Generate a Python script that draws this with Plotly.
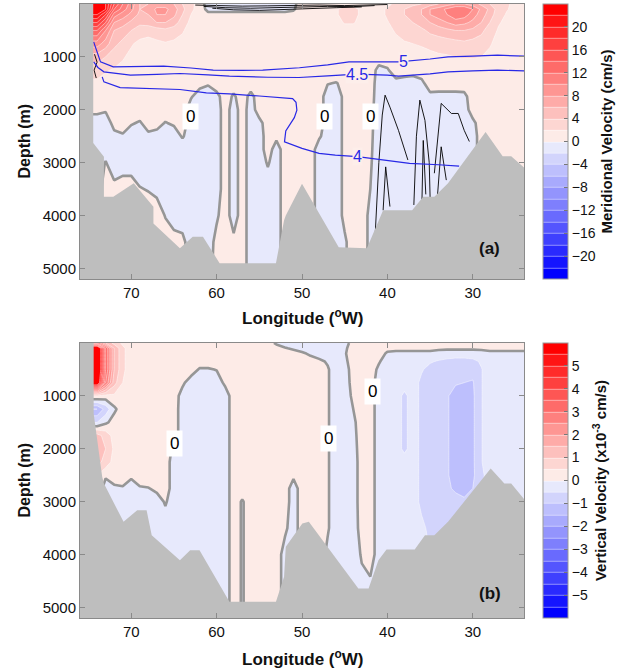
import numpy as np
import plotly.graph_objects as go

# ---------------- data ----------------
lon_nodes = [76, 75, 74, 73, 72, 71, 70, 69, 68, 67, 66, 65, 64, 63, 62, 61, 60, 59, 58, 57,
             56, 55, 54, 53, 52, 51, 50, 49, 48, 47, 46, 45, 44, 43, 42, 41, 40, 39, 38, 37,
             36, 35, 34, 33, 32, 31, 30, 29, 28, 27, 26, 25, 24]
depth_nodes = [0, 100, 200, 350, 500, 750, 1000, 1250, 1500, 1750, 2000, 2250, 2500, 2750,
               3000, 3500, 4000, 4500, 5000]

# meridional velocity (cm/s), one list per longitude node (surface -> bottom)
merid_cols = [
    [24, 24, 22, 18, 14, 9, 5, 2.8, 1.6, 1, 0.5, -1, -1, -1, -1, -1, -1, -1, -1],          # 76
    [24, 24, 22, 18, 14, 9, 5, 2.8, 1.6, 1, 0.5, -1, -1, -1, -1, -1, -1, -1, -1],          # 75
    [24, 24, 22, 18, 14, 9, 5, 2.8, 1.6, 1, 0.5, -1, -1, -1, -1, -1, -1, -1, -1],          # 74
    [22, 22, 18, 14, 10, 7, 4, 2.2, 1.2, 1, 0.2, -1, -1, -0.8, 0.1, 1, 1, 1, 1],           # 73
    [16, 14, 11, 8, 6, 4.5, 3, 1.8, 1.2, 1, 1, 0.6, -0.5, -1, -1, 0.5, 1, 1, 1],           # 72
    [12, 11, 9, 7, 5, 3.5, 2.2, 1.5, 1.1, 1, 1, 0.8, -0.2, -1, -0.8, 0.8, 1, 1, 1],        # 71
    [9, 8.5, 7.5, 5.5, 4, 2.2, 1.5, 1.2, 1, 1, 1, 0.2, -1, -1, -1, 1, 1, 1, 1],            # 70
    [6, 6, 5.5, 4.5, 3, 1.5, 1.2, 1.1, 1, 1, 1, -0.2, -1, -1, -1, 0.1, 1, 1, 1],           # 69
    [6, 6.5, 6, 5, 2.5, 1.5, 1.2, 1.1, 1, 1, 1, 0.8, -0.4, -1, -1, -0.1, 1, 1, 1],         # 68
    [7, 8.5, 8, 6, 3, 1.6, 1.2, 1.1, 1, 1, 1, 0.6, -0.6, -1, -1, -0.5, 1, 1, 1],           # 67
    [7, 8.5, 8, 6, 3.5, 1.8, 1.2, 1.1, 1, 1, 1, -0.1, -1, -1, -1, -1, -0.1, 1, 1],         # 66
    [6, 7, 6.5, 5, 3, 1.6, 1.2, 1, 1, 1, 1, 0.3, -1, -1, -1, -1, -0.6, 0.5, 1],            # 65
    [4, 4.5, 4, 3, 2.2, 1.4, 1.1, 1, 1, 1, 1, 1, 0.2, -1, -1, -1, -1, 0.5, 1],             # 64
    [2.5, 2.5, 2, 1.5, 1.2, 1.1, 1, 1, 1, 0.2, -1, -1, -1, -1, -1, -1, -1, -1, -1],        # 63
    [1.2, 1, 1, 1, 1, 1, 1, 1, 0.7, -1, -1, -1, -1, -1, -1, -1, -1, -1, -1],               # 62
    [-1, -0.5, 0.5, 1, 1, 1, 1, 1, 0.2, -1, -1, -1, -1, -1, -1, -1, -1, -1, -1],           # 61
    [-1, -0.5, 0.5, 1, 1, 1, 1, 1, 1, -0.6, -1, -1, -1, -1, -1, -1, -0.3, 0.6, 1],         # 60
    [-1, -0.5, 0.5, 1, 1, 1, 1, 1, 1, 1, 1, 1, 1, 1, 1, 1, 1, 1, 1],                        # 59
    [-1, -0.5, 0.5, 1, 1, 1, 1, 1, 1, -0.3, -1, -1, -1, -1, -1, -1, -1, 0.5, 1],           # 58
    [-1, -0.5, 0.5, 1, 1, 1, 1, 1, 1, 1, 1, 1, 1, 1, 1, 1, 1, 1, 1],                        # 57
    [-1, -0.5, 0.5, 1, 1, 1, 1, 1, 1, -0.6, -1, -1, -1, -1, -1, -1, -1, -1, -1],           # 56
    [-1, -0.5, 0.5, 1, 1, 1, 1, 1, 1, 1, 1, -0.6, -1, -1, -1, -1, -1, -1, -1],             # 55
    [-1, -0.5, 0.5, 1, 1, 1, 1, 1, 1, 1, 1, 1, 1, 1, 0.2, -1, -1, -1, -1],                 # 54
    [-1, -0.5, 0.5, 1, 1, 1, 1, 1, 1, 1, 1, 1, 0.5, -1, -1, -1, -1, -1, -1],               # 53
    [-1, -0.5, 0.5, 1, 1, 1, 1, 1, 1, 1, 1, 1, 1, 1, 1, 1, 1, 1, 1],                        # 52
    [-0.5, -0.2, 0.6, 1, 1, 1, 1, 1, 1, 1, 1, 1, 1, 1, 1, 1, 1, 1, 1],                      # 51
    [1, 1, 1, 1, 1, 1, 1, 1, 1, 1, 1, 1, 1, 1, 1, 1, 1, 1, 1],                              # 50
    [1, 1, 1, 1, 1, 1, 1, 1, 1, 1, 1, 1, 1, 1, 1, 1, 1, 1, 1],                              # 49
    [1, 1, 1, 1, 1, 1, 1, 1, 1, 1, 1, 1, 0.3, -1, -1, -1, -1, -1, -1],                      # 48
    [1, 1, 1, 1, 1, 1, 1, 1, 0.1, -1, -1, -1, -1, -1, -1, -1, -1, -1, -1],                  # 47
    [1.2, 1.8, 1.8, 1.2, 1, 1, 1, 1, -0.1, -1, -1, -1, -1, -1, -1, -1, -1, -1, -1],         # 46
    [1.5, 2.6, 2.6, 2.2, 1, 0.8, 0.5, 0.5, 0.5, 0.5, 0.5, 0.5, 0.5, 0.5, 0.5, 0.5, 0.5, -0.3, -0.3],  # 45
    [1.5, 2.6, 2.6, 2.2, 1, 1, 1, 1, 1, 1, 1, 1, 1, 1, 1, 1, 1, 1, 1],                      # 44
    [1.2, 1.6, 1.6, 1.3, 1, 1, 1, 1, 1, 1, 1, 1, 1, 1, 1, 1, 1, 1, 1],                      # 43
    [1, 1, 1, 1, 1, 1, 1, 1, 1, 0.8, 0.6, 0.5, 0.4, 0.3, 0.2, 0, -0.5, -0.5, -0.5],        # 42
    [1.2, 1.5, 1.5, 1.3, 1.1, 1, 1, -0.6, -1, -1, -1, -1, -1, -1, -1, -1, -1, -1, -1],      # 41
    [1.5, 2.2, 2.2, 1.9, 1.5, 1.2, 1, -0.2, -1, -1, -1, -1, -1, -1, -1, -1, -1, -1, -1],    # 40
    [2.5, 3, 3, 2.5, 2.2, 1.5, 1, 1, -0.6, -1, -1, -1, -1, -1, -1, -1, -1, -1, -1],         # 39
    [3, 4, 4, 3.5, 2.8, 1.8, 1.2, 1, -0.9, -1, -1, -1, -1, -1, -1, -1, -1, -1, -1],         # 38
    [3.5, 5, 5, 4, 3, 2, 1.2, 0.8, -1, -1, -1, -1, -1, -1, -1, -1, -1, -1, -1],             # 37
    [4, 6, 6, 5, 3.5, 2.2, 1.3, 1, -0.5, -1, -1, -1, -1, -1, -1, -1, -1, -1, -1],           # 36
    [5, 8, 8, 6, 4.5, 2.5, 1.5, 1, 1, -0.5, -1, -1, -1, -1, -1, -1, -1, -1, -1],            # 35
    [6, 9, 9, 7, 5, 2.8, 1.7, 1.1, 1, -0.6, -1, -1, -1, -1, -1, -1, -1, -1, -1],            # 34
    [7, 10.5, 10, 8, 5.5, 3, 1.8, 1.2, 1, -0.6, -1, -1, -1, -1, -1, -1, -1, -1, -1],        # 33
    [8, 12, 11.5, 9, 6, 3.2, 2, 1.2, 1, -0.6, -1, -1, -1, -1, -1, -1, -1, -1, -1],          # 32
    [8, 12, 11, 8.5, 6, 3.5, 2.1, 1.3, 1, -0.5, -1, -1, -1, -1, -1, -1, -1, -1, -1],        # 31
    [7, 10, 9, 7.5, 5.5, 3.2, 2.1, 1.3, 1, 1, 1, -0.5, -1, -1, -1, -1, -1, -1, -1],         # 30
    [5.5, 7.5, 7, 6, 4.5, 3, 2, 1.3, 1, 1, 1, 1, 1, 1, 1, 1, 1, 1, 1],                      # 29
    [4, 5.5, 5, 4, 3, 2.2, 1.5, 1.1, 1, 1, 1, 1, 1, 1, 1, 1, 1, 1, 1],                      # 28
    [3, 3, 2.8, 2.2, 1.8, 1.3, 1.1, 1, 1, 1, 1, 1, 1, 1, 1, 1, 1, 1, 1],                    # 27
    [2.2, 2.1, 1.8, 1.5, 1.3, 1.1, 1, 1, 1, 1, 1, 1, 1, 1, 1, 1, 1, 1, 1],                  # 26
    [1.6, 1.5, 1.3, 1.2, 1.1, 1, 1, 1, 1, 1, 1, 1, 1, 1, 1, 1, 1, 1, 1],                    # 25
    [1.2, 1.1, 1, 1, 1, 1, 1, 1, 1, 1, 1, 1, 1, 1, 1, 1, 1, 1, 1],                          # 24
]

# vertical velocity (x1e-3 cm/s), one list per longitude node (surface -> bottom)
vert_cols = [
    [3, 7, 7, 7, 7, 6.5, 0.5, -1.5, -0.5, 1.2, 1.5, 1.2, 0.5, 0.5, 0.5, 0.5, 0.5, 0.5, 0.5],   # 76
    [3, 7, 7, 7, 7, 6.5, 0.5, -1.5, -0.5, 1.2, 1.5, 1.2, 0.5, 0.5, 0.5, 0.5, 0.5, 0.5, 0.5],   # 75
    [3, 7, 7, 7, 7, 6.5, 0.5, -1.5, -0.5, 1.2, 1.5, 1.2, 0.5, 0.5, 0.5, 0.5, 0.5, 0.5, 0.5],   # 74
    [1.5, 3.5, 3.5, 3.5, 3.5, 3, 0.3, -0.8, -0.1, 0.8, 1, 0.8, 0.1, -0.3, -0.3, -0.3, -0.3, -0.3, -0.3],  # 73
    [0.8, 1.5, 1.5, 1.5, 1.5, 1.2, 0.4, -0.1, 0.2, 0.3, 0.4, 0.3, 0.25, -0.1, -0.25, -0.25, -0.25, -0.25, -0.25],  # 72
    [0.4, 0.6, 0.6, 0.6, 0.6, 0.5, 0.3, 0.25, 0.25, 0.25, 0.25, 0.25, 0.25, -0.05, -0.25, -0.25, -0.25, -0.25, -0.25],  # 71
    [0.25, 0.25, 0.25, 0.25, 0.25, 0.25, 0.25, 0.25, 0.25, 0.25, 0.25, 0.25, 0.1, -0.25, -0.25, -0.25, -0.25, -0.25, -0.25],  # 70
    [0.25, 0.25, 0.25, 0.25, 0.25, 0.25, 0.25, 0.25, 0.25, 0.25, 0.25, 0.25, 0.25, -0.05, -0.25, -0.25, -0.25, -0.25, -0.25],  # 69
    [0.25, 0.25, 0.25, 0.25, 0.25, 0.25, 0.25, 0.25, 0.25, 0.25, 0.25, 0.25, 0.25, -0.02, -0.25, -0.25, -0.25, -0.25, -0.25],  # 68
    [0.25, 0.25, 0.25, 0.25, 0.25, 0.25, 0.25, 0.25, 0.25, 0.25, 0.25, 0.25, 0.25, 0.1, -0.2, -0.25, -0.25, -0.25, -0.25],  # 67
    [0.25, 0.25, 0.25, 0.25, 0.25, 0.25, 0.25, 0.25, 0.25, 0.25, 0.25, 0.25, 0.25, 0.25, 0.05, -0.25, -0.25, -0.25, -0.25],  # 66
    [0.25, 0.25, 0.25, 0.25, 0.25, 0.25, 0.25, 0.25, 0.25, 0.25, -0.1, -0.25, -0.25, -0.25, -0.25, -0.25, -0.25, -0.25, -0.25],  # 65
    [0.25, 0.25, 0.25, 0.25, 0.25, 0.1, -0.2, -0.25, -0.25, -0.25, -0.25, -0.25, -0.25, -0.25, -0.25, -0.25, -0.25, -0.25, -0.25],  # 64
    [0.25, 0.25, 0.25, 0.25, 0.25, -0.25, -0.25, -0.25, -0.25, -0.25, -0.25, -0.25, -0.25, -0.25, -0.25, -0.25, -0.25, -0.25, -0.25],  # 63
    [0.25, 0.25, 0.25, 0.25, -0.05, -0.25, -0.25, -0.25, -0.25, -0.25, -0.25, -0.25, -0.25, -0.25, -0.25, -0.25, -0.25, -0.25, -0.25],  # 62
    [0.25, 0.25, 0.25, 0.25, -0.05, -0.25, -0.25, -0.25, -0.25, -0.25, -0.25, -0.25, -0.25, -0.25, -0.25, -0.25, -0.25, -0.25, -0.25],  # 61
    [0.25, 0.25, 0.25, 0.25, 0.02, -0.25, -0.25, -0.25, -0.25, -0.25, -0.25, -0.25, -0.25, -0.25, -0.25, -0.25, -0.25, -0.25, -0.25],  # 60
    [0.25, 0.25, 0.25, 0.25, 0.25, 0.1, -0.25, -0.25, -0.25, -0.25, -0.25, -0.25, -0.25, -0.25, -0.25, -0.25, -0.25, -0.25, -0.25],  # 59
    [0.25, 0.25, 0.25, 0.25, 0.25, 0.25, 0.25, 0.25, 0.25, 0.25, 0.25, 0.25, 0.25, 0.25, 0.25, 0.25, 0.25, 0.25, 0.25],  # 58
    [0.25, 0.25, 0.25, 0.25, 0.25, 0.25, 0.25, 0.25, 0.25, 0.25, 0.25, 0.25, 0.25, 0.25, -0.05, -0.05, -0.05, -0.05, -0.05],  # 57
    [0.25, 0.25, 0.25, 0.25, 0.25, 0.25, 0.25, 0.25, 0.25, 0.25, 0.25, 0.25, 0.25, 0.25, 0.25, 0.25, 0.25, 0.25, 0.25],  # 56
    [0.25, 0.25, 0.25, 0.25, 0.25, 0.25, 0.25, 0.25, 0.25, 0.25, 0.25, 0.25, 0.25, 0.25, 0.25, 0.25, 0.25, 0.25, 0.25],  # 55
    [0.25, 0.25, 0.25, 0.25, 0.25, 0.25, 0.25, 0.25, 0.25, 0.25, 0.25, 0.25, 0.25, 0.25, 0.25, 0.25, 0.25, 0.25, 0.25],  # 54
    [-0.1, 0.25, 0.25, 0.25, 0.25, 0.25, 0.25, 0.25, 0.25, 0.25, 0.25, 0.25, 0.25, 0.25, 0.25, 0.25, 0.25, 0.25, 0.25],  # 53
    [-0.25, 0.05, 0.25, 0.25, 0.25, 0.25, 0.25, 0.25, 0.25, 0.25, 0.25, 0.25, 0.25, 0.25, 0.25, 0.1, -0.2, -0.2, -0.2],  # 52
    [-0.25, -0.1, 0.25, 0.25, 0.25, 0.25, 0.25, 0.25, 0.25, 0.25, 0.25, 0.25, 0.1, -0.25, -0.25, -0.25, -0.25, -0.25, -0.25],  # 51
    [-0.25, -0.25, 0.1, 0.25, 0.25, 0.25, 0.25, 0.25, 0.25, 0.25, 0.25, 0.25, 0.25, 0.25, 0.25, 0.25, 0.25, 0.25, 0.25],  # 50
    [-0.25, -0.25, -0.1, 0.25, 0.25, 0.25, 0.25, 0.25, 0.25, 0.25, 0.25, 0.25, 0.25, 0.25, 0.25, 0.25, 0.25, 0.25, 0.25],  # 49
    [-0.25, -0.25, -0.2, 0.1, 0.25, 0.25, 0.25, 0.25, 0.25, 0.25, 0.25, 0.25, 0.25, 0.25, 0.25, 0.25, 0.25, 0.25, 0.25],  # 48
    [-0.25, -0.25, -0.25, -0.05, 0.05, 0.05, 0.05, 0.05, 0.05, 0.05, 0.05, 0.05, 0.05, 0.05, 0.05, 0.05, -0.1, -0.1, -0.1],  # 47
    [-0.25, -0.25, -0.25, -0.25, -0.25, -0.25, -0.25, -0.25, -0.25, -0.25, -0.25, -0.25, -0.25, -0.25, -0.25, -0.25, -0.25, -0.25, -0.25],  # 46
    [-0.25, -0.1, -0.05, -0.1, -0.15, -0.2, -0.25, -0.25, -0.25, -0.25, -0.25, -0.25, -0.25, -0.25, -0.25, -0.25, -0.25, -0.25, -0.25],  # 45
    [0.25, 0.25, 0.25, 0.2, 0.15, 0.15, 0.1, 0, -0.1, -0.15, -0.2, -0.25, -0.25, -0.25, -0.25, -0.25, -0.25, -0.25, -0.25],  # 44
    [0.25, 0.25, 0.25, 0.25, 0.25, 0.25, 0.25, 0.25, 0.25, 0.25, 0.25, 0.25, 0.25, 0.25, 0.25, 0.2, 0.05, -0.1, -0.1],  # 43
    [0.25, 0.25, 0.25, 0.25, 0.25, 0.25, 0.25, 0.25, 0.25, 0.25, 0.25, 0.25, 0.25, 0.25, 0.25, 0.25, 0.25, -0.05, -0.05],  # 42
    [0.25, 0.25, 0.15, 0.05, -0.1, -0.25, -0.25, -0.25, -0.25, -0.25, -0.25, -0.25, -0.25, -0.25, -0.25, -0.25, -0.25, -0.25, -0.25],  # 41
    [0.25, 0.1, -0.05, -0.25, -0.3, -0.3, -0.3, -0.3, -0.3, -0.3, -0.3, -0.3, -0.3, -0.3, -0.3, -0.3, -0.3, -0.3, -0.3],  # 40
    [0.25, 0.1, -0.1, -0.3, -0.3, -0.3, -0.3, -0.3, -0.3, -0.3, -0.3, -0.3, -0.3, -0.3, -0.3, -0.3, -0.3, -0.3, -0.3],  # 39
    [0.25, 0.1, -0.1, -0.3, -0.3, -0.3, -0.6, -0.6, -0.6, -0.6, -0.6, -0.3, -0.3, -0.3, -0.3, -0.3, -0.3, -0.3, -0.3],  # 38
    [0.25, 0.1, -0.1, -0.3, -0.3, -0.3, -0.3, -0.3, -0.3, -0.3, -0.3, -0.3, -0.3, -0.3, -0.3, -0.3, -0.3, -0.3, -0.3],  # 37
    [0.25, 0.1, -0.1, -0.3, -0.45, -0.6, -0.6, -0.6, -0.6, -0.6, -0.6, -0.6, -0.6, -0.6, -0.6, -0.4, -0.3, -0.3, -0.3],  # 36
    [0.25, 0.1, -0.1, -0.45, -0.65, -0.7, -0.7, -0.7, -0.7, -0.7, -0.7, -0.7, -0.7, -0.7, -0.7, -0.6, -0.5, -0.5, -0.5],  # 35
    [0.25, 0.1, -0.2, -0.55, -0.7, -0.8, -0.85, -0.85, -0.85, -0.85, -0.85, -0.85, -0.85, -0.85, -0.85, -0.85, -0.85, -0.85, -0.85],  # 34
    [0.25, 0.1, -0.3, -0.6, -0.8, -0.9, -0.95, -0.95, -0.95, -0.95, -0.95, -0.95, -0.95, -0.95, -0.95, -0.95, -0.95, -0.95, -0.95],  # 33
    [0.25, 0.1, -0.3, -0.65, -0.85, -0.95, -1.2, -1.2, -1.2, -1.2, -1.2, -1.2, -1.2, -1.05, -0.9, -0.9, -0.9, -0.9, -0.9],  # 32
    [0.25, 0.1, -0.3, -0.65, -0.85, -1.0, -1.2, -1.2, -1.2, -1.2, -1.2, -1.2, -1.2, -1.2, -0.9, -0.9, -0.9, -0.9, -0.9],  # 31
    [0.25, 0.1, -0.3, -0.6, -0.8, -1.05, -1.1, -1.1, -1.1, -1.1, -1.1, -1.1, -1.1, -1.0, -0.9, -0.9, -0.9, -0.9, -0.9],  # 30
    [0.25, 0.1, -0.2, -0.45, -0.52, -0.52, -0.52, -0.52, -0.52, -0.52, -0.52, -0.52, -0.6, -0.6, -0.6, -0.6, -0.6, -0.6, -0.6],  # 29
    [0.25, 0.1, -0.1, -0.3, -0.3, -0.3, -0.3, -0.3, -0.3, -0.3, -0.3, -0.3, -0.3, -0.3, -0.3, -0.3, -0.3, -0.3, -0.3],  # 28
    [0.25, 0.1, -0.1, -0.3, -0.3, -0.3, -0.3, -0.3, -0.3, -0.3, -0.3, -0.3, -0.3, -0.3, -0.3, -0.3, -0.3, -0.3, -0.3],  # 27
    [0.25, 0.1, -0.1, -0.3, -0.3, -0.3, -0.3, -0.3, -0.3, -0.3, -0.3, -0.3, -0.3, -0.3, -0.3, -0.3, -0.3, -0.3, -0.3],  # 26
    [0.25, 0.1, -0.1, -0.3, -0.3, -0.3, -0.3, -0.3, -0.3, -0.3, -0.3, -0.3, -0.3, -0.3, -0.3, -0.3, -0.3, -0.3, -0.3],  # 25
    [0.25, 0.1, -0.1, -0.3, -0.3, -0.3, -0.3, -0.3, -0.3, -0.3, -0.3, -0.3, -0.3, -0.3, -0.3, -0.3, -0.3, -0.3, -0.3],  # 24
]

# bottom topography (lon, depth)
topo_a_lon = [74.45, 74.45, 73.2, 73.2, 72.1, 69.7, 67.4, 67.4, 64.3, 62.8, 61.6, 59.65, 53.05, 52.1,
              51.9, 50.0, 45.7, 42.4, 40.5, 37.1, 35.8, 34.5, 32.9, 28.5, 26.5, 25.5, 24.0]
topo_a_depth = [0, 2630, 2890, 3645, 3645, 3390, 3835, 4150, 4620, 4400, 4400, 4900, 4900, 4087,
                4000, 3400, 4600, 4620, 3900, 3900, 3645, 3645, 3390, 2420, 2880, 2880, 3090]
topo_b_lon = [74.4, 74.4, 73.4, 73.2, 70.9, 69.3, 68.2, 67.6, 64.3, 63.1, 62.0, 58.5, 53.05, 52.1,
              51.9, 49.96, 49.2, 43.4, 42.2, 41.05, 40.1, 36.8, 35.6, 34.5, 32.9, 27.9, 26.3, 25.5, 24.0]
topo_b_depth = [0, 1333, 2531, 2657, 3382, 3161, 3161, 3633, 4106, 3917, 3917, 4894, 4894, 4421,
                3854, 3413, 3382, 4641, 4641, 4106, 3905, 3905, 3633, 3633, 3382, 2372, 2657, 2657, 2950]

# isolines (blue) in panel (a)
iso5_lon = [74.4, 74.0, 73.6, 72.1, 69.0, 66.2, 63.0, 60.4, 57.0, 54.6, 50.3, 47.0, 44.5, 41.0,
            38.7, 35.0, 32.9, 30.0, 27.1, 24.0]
iso5_depth = [716, 900, 1094, 1189, 1185, 1176, 1210, 1251, 1255, 1251, 1205, 1150, 1094, 1094,
              1094, 1040, 1000, 985, 968, 985]
iso45_lon = [74.4, 73.9, 73.2, 70.1, 67.0, 64.3, 61.0, 58.5, 54.0, 50.35, 47.0, 43.6, 40.0, 38.7,
             35.0, 32.9, 30.0, 27.1, 24.0]
iso45_depth = [1094, 1200, 1283, 1346, 1330, 1314, 1340, 1365, 1385, 1390, 1360, 1327, 1345, 1365,
               1320, 1283, 1265, 1251, 1264]
iso4_lon = [73.4, 73.2, 71.3, 68.0, 64.3, 61.2, 58.5, 55.0, 51.1, 50.7, 50.6, 50.9, 51.9, 52.05,
            50.0, 48.0, 46.1, 43.5, 39.9, 37.4, 34.0, 31.6]
iso4_depth = [1378, 1472, 1580, 1600, 1617, 1680, 1700, 1740, 1790, 1860, 2008, 2150, 2400, 2606,
              2731, 2826, 2857, 2885, 2952, 3012, 3040, 3065]
iso_labels = ["5", "4.5", "4"]
iso_label_lon = [38.1, 43.6, 43.5]
iso_label_depth = [1090, 1327, 2885]

# thin black contour lines in panel (a)
black_lines = [
    ([62.5, 60.0, 57.0, 54.0, 51.0, 48.0, 45.0, 42.0, 40.0], [20, 30, 40, 35, 25, 20, 30, 25, 10]),
    ([61.5, 59.0, 56.0, 53.0, 50.0, 47.0, 44.0, 41.5], [45, 70, 80, 65, 55, 45, 50, 30]),
    ([60.5, 58.0, 55.0, 52.0, 49.0, 46.0, 43.0], [80, 110, 120, 100, 80, 70, 55]),
    ([74.3, 74.0, 74.35, 74.1], [950, 1100, 1250, 1400]),
    ([41.43, 41.0, 40.6, 40.27, 39.7, 38.7, 37.6], [4370, 3000, 2100, 1724, 1950, 2390, 2950]),
    ([36.9, 36.6, 36.2, 35.6, 35.1, 35.0], [3800, 2500, 1818, 2200, 3000, 3650]),
    ([35.95, 35.8, 35.5], [3700, 2580, 3600]),
    ([34.5, 34.0, 33.7, 32.5, 31.7, 31.0, 30.4], [3200, 2400, 1880, 2070, 2070, 2390, 2600]),
    ([34.2, 33.7, 33.1], [3770, 2700, 3330]),
    ([40.5, 40.2, 39.7], [3900, 3080, 3830]),
]

# zero-contour labels
zero_lbl_a_lon = [63.1, 47.4, 42.0]
zero_lbl_a_depth = [2134, 2134, 2134]
zero_lbl_b_lon = [64.9, 46.9, 41.7]
zero_lbl_b_depth = [1900, 1800, 925]

lon_ticks = [70, 60, 50, 40, 30]
depth_ticks = [1000, 2000, 3000, 4000, 5000]
merid_ticks = [-20, -16, -12, -8, -4, 0, 4, 8, 12, 16, 20]
vert_ticks = [-5, -4, -3, -2, -1, 0, 1, 2, 3, 4, 5]

# ---------------- figure ----------------
LON_MAX, LON_MIN = 76, 24
DEPTH_MAX = 5200
W, H = 627, 669

x_asc = lon_nodes[::-1]
za = np.array(merid_cols).T[:, ::-1]
zb = np.array(vert_cols).T[:, ::-1]

cscale = [[0.0, 'rgb(0,0,255)'], [0.48, 'rgb(232,234,252)'], [0.5, 'rgb(255,255,255)'],
          [0.52, 'rgb(253,236,232)'], [1.0, 'rgb(255,0,0)']]

FONT = "Liberation Sans, Arial, sans-serif"
GRAY_TOPO = 'rgb(190,190,190)'
ZERO_COL = 'rgb(150,150,150)'

dom_x = [80 / W, 524 / W]
dom_ya = [1 - 279 / H, 1 - 4 / H]
dom_yb = [1 - 618 / H, 1 - 343 / H]

fig = go.Figure()


def cbar(title, ticks, dom):
    return dict(x=543 / W, xanchor='left', y=(dom[0] + dom[1]) / 2, yanchor='middle',
                len=dom[1] - dom[0], lenmode='fraction', thickness=25, thicknessmode='pixels',
                xpad=0, ypad=0, outlinecolor='#999999', outlinewidth=1,
                tickvals=ticks, ticks='inside', ticklen=4, tickcolor='#777777',
                tickfont=dict(size=14, family=FONT, color='#111111'),
                title=dict(text=title, side='right', font=dict(size=15, family=FONT, color='#111111')))


# panel (a)
fig.add_trace(go.Contour(
    x=x_asc, y=depth_nodes, z=za, xaxis='x', yaxis='y',
    colorscale=cscale, zmin=-24, zmax=24, autocontour=False,
    contours=dict(start=-22, end=22, size=2, coloring='fill', showlines=True),
    line=dict(color='rgba(255,255,255,0.8)', width=0.6, smoothing=0),
    colorbar=cbar('<b>Meridional Velocity (cm/s)</b>', merid_ticks, dom_ya),
    hoverinfo='skip'))
fig.add_trace(go.Contour(
    x=x_asc, y=depth_nodes, z=za, xaxis='x', yaxis='y', showscale=False,
    autocontour=False, contours=dict(start=0, end=0, size=1, coloring='none'),
    line=dict(color=ZERO_COL, width=2.6, smoothing=0), hoverinfo='skip'))
for bl_lon, bl_dep in black_lines:
    fig.add_trace(go.Scatter(x=bl_lon, y=bl_dep, mode='lines', xaxis='x', yaxis='y',
                             line=dict(color='black', width=0.9), showlegend=False, hoverinfo='skip'))
for ilon, idep in [(iso5_lon, iso5_depth), (iso45_lon, iso45_depth), (iso4_lon, iso4_depth)]:
    fig.add_trace(go.Scatter(x=ilon, y=idep, mode='lines', xaxis='x', yaxis='y',
                             line=dict(color='rgb(40,40,230)', width=1.2), showlegend=False,
                             hoverinfo='skip'))
fig.add_trace(go.Scatter(
    x=[LON_MAX] + topo_a_lon + [LON_MIN, LON_MAX], y=[0] + topo_a_depth + [DEPTH_MAX, DEPTH_MAX],
    mode='lines', fill='toself', fillcolor=GRAY_TOPO, line=dict(width=0, color=GRAY_TOPO),
    xaxis='x', yaxis='y', showlegend=False, hoverinfo='skip'))

# panel (b)
fig.add_trace(go.Contour(
    x=x_asc, y=depth_nodes, z=zb, xaxis='x2', yaxis='y2',
    colorscale=cscale, zmin=-6, zmax=6, autocontour=False,
    contours=dict(start=-5.5, end=5.5, size=0.5, coloring='fill', showlines=True),
    line=dict(color='rgba(255,255,255,0.8)', width=0.6, smoothing=0),
    colorbar=cbar('<b>Vertical Velocity (x10<sup>-3</sup> cm/s)</b>', vert_ticks, dom_yb),
    hoverinfo='skip'))
fig.add_trace(go.Contour(
    x=x_asc, y=depth_nodes, z=zb, xaxis='x2', yaxis='y2', showscale=False,
    autocontour=False, contours=dict(start=0, end=0, size=1, coloring='none'),
    line=dict(color=ZERO_COL, width=2.6, smoothing=0), hoverinfo='skip'))
fig.add_trace(go.Scatter(
    x=[LON_MAX] + topo_b_lon + [LON_MIN, LON_MAX], y=[0] + topo_b_depth + [DEPTH_MAX, DEPTH_MAX],
    mode='lines', fill='toself', fillcolor=GRAY_TOPO, line=dict(width=0, color=GRAY_TOPO),
    xaxis='x2', yaxis='y2', showlegend=False, hoverinfo='skip'))

axis_common = dict(showline=True, linecolor='#8a8a8a', linewidth=1, mirror='ticks',
                   ticks='inside', ticklen=5, tickcolor='#8a8a8a', showgrid=True,
                   gridcolor='rgba(120,120,120,0.28)', gridwidth=1, zeroline=False,
                   layer='above traces', automargin=False,
                   tickfont=dict(size=15, family=FONT, color='#111111'))

fig.update_layout(
    width=W, height=H, margin=dict(l=0, r=0, t=0, b=0),
    paper_bgcolor='white', plot_bgcolor='white', showlegend=False,
    font=dict(family=FONT),
    xaxis=dict(domain=dom_x, anchor='y', range=[LON_MAX, LON_MIN], tickvals=lon_ticks, **axis_common),
    yaxis=dict(domain=dom_ya, anchor='x', range=[DEPTH_MAX, 0], tickvals=depth_ticks, **axis_common),
    xaxis2=dict(domain=dom_x, anchor='y2', range=[LON_MAX, LON_MIN], tickvals=lon_ticks, **axis_common),
    yaxis2=dict(domain=dom_yb, anchor='x2', range=[DEPTH_MAX, 0], tickvals=depth_ticks, **axis_common),
)

ann = []
for dom in [dom_ya, dom_yb]:
    ann.append(dict(text='<b>Depth (m)</b>', xref='paper', yref='paper', x=24 / W,
                    y=(dom[0] + dom[1]) / 2, textangle=-90, showarrow=False,
                    font=dict(size=16, family=FONT, color='#111111'), xanchor='center', yanchor='middle'))
for ty in [317, 658]:
    ann.append(dict(text='<b>Longitude (<sup>o</sup>W)</b>', xref='paper', yref='paper', x=303 / W,
                    y=1 - ty / H, showarrow=False, yanchor='middle',
                    font=dict(size=17, family=FONT, color='#111111')))
ann.append(dict(text='<b>(a)</b>', xref='x', yref='y', x=28.0, y=4620, showarrow=False,
                font=dict(size=17, family=FONT, color='#111111')))
ann.append(dict(text='<b>(b)</b>', xref='x2', yref='y2', x=28.0, y=4730, showarrow=False,
                font=dict(size=17, family=FONT, color='#111111')))
for lo, de in zip(zero_lbl_a_lon, zero_lbl_a_depth):
    ann.append(dict(text='0', xref='x', yref='y', x=lo, y=de, showarrow=False, bgcolor='white',
                    borderpad=3, font=dict(size=17, family=FONT, color='black')))
for lo, de in zip(zero_lbl_b_lon, zero_lbl_b_depth):
    ann.append(dict(text='0', xref='x2', yref='y2', x=lo, y=de, showarrow=False, bgcolor='white',
                    borderpad=3, font=dict(size=17, family=FONT, color='black')))
for t, lo, de in zip(iso_labels, iso_label_lon, iso_label_depth):
    ann.append(dict(text=t, xref='x', yref='y', x=lo, y=de, showarrow=False,
                    bgcolor='rgb(253,238,234)', borderpad=0,
                    font=dict(size=16, family=FONT, color='rgb(40,40,230)')))
fig.update_layout(annotations=ann)

fig.write_html("out.html")
